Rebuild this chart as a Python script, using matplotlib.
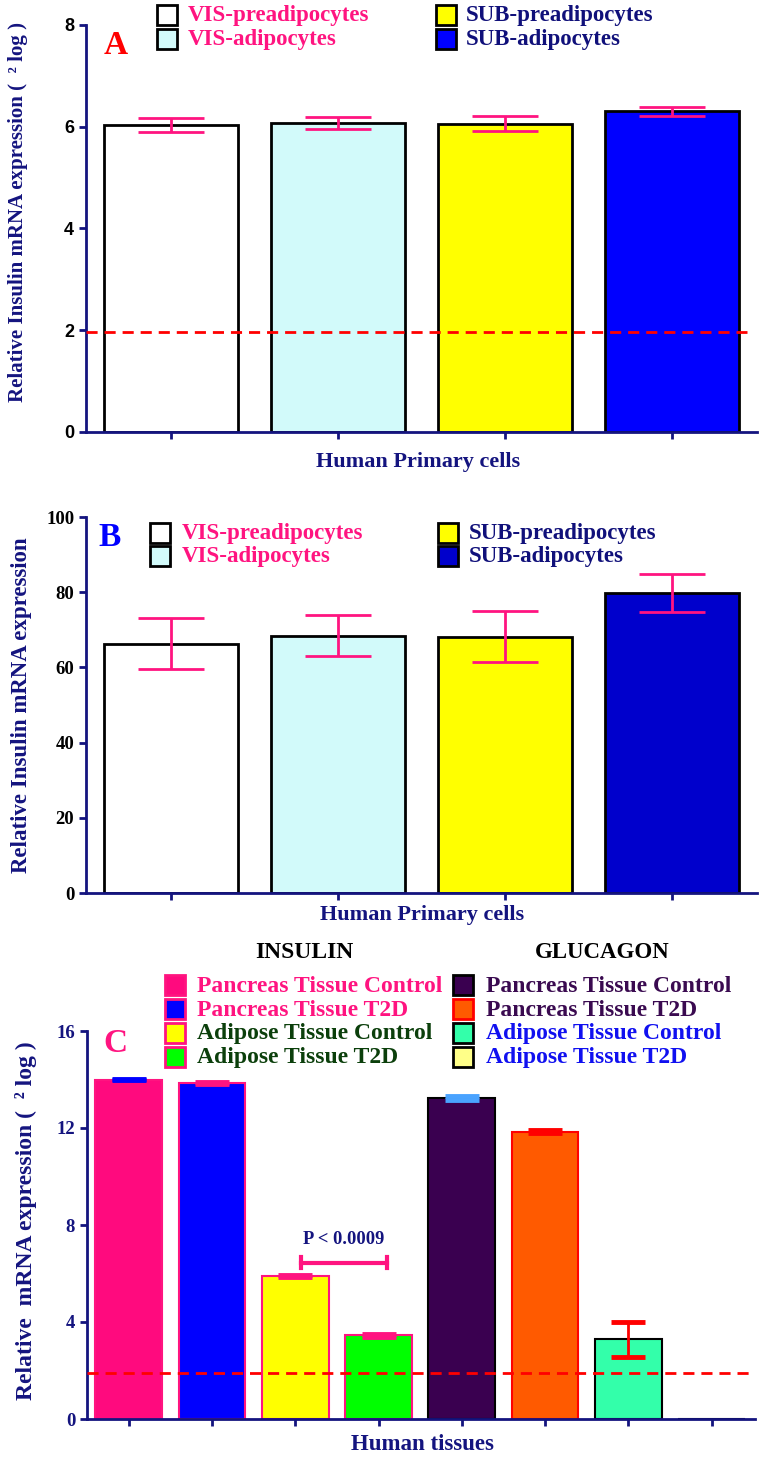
import matplotlib
matplotlib.use("Agg")
import matplotlib.pyplot as plt
from matplotlib.patches import Rectangle

# ── Data ────────────────────────────────────────────────────────────────
cell_labels = ["VIS-preadipocytes", "VIS-adipocytes", "SUB-preadipocytes", "SUB-adipocytes"]
cell_text_colors = ["#FF1480", "#FF1480", "#10107A", "#10107A"]

a_vals = [6.03, 6.08, 6.06, 6.30]
a_err = [0.14, 0.115, 0.145, 0.09]
a_colors = ["#FFFFFF", "#D2FAFA", "#FFFF00", "#0000FF"]

b_vals = [66.3, 68.4, 68.2, 79.8]
b_err = [6.8, 5.5, 6.8, 5.0]
b_colors = ["#FFFFFF", "#D2FAFA", "#FFFF00", "#0000CC"]

tissue_labels = ["Pancreas Tissue Control", "Pancreas Tissue T2D",
                 "Adipose Tissue Control", "Adipose Tissue T2D",
                 "Pancreas Tissue Control", "Pancreas Tissue T2D",
                 "Adipose Tissue Control", "Adipose Tissue T2D"]
tissue_text_colors = ["#FF1480", "#FF1480", "#0B3F0B", "#0B3F0B",
                      "#3A0A50", "#3A0A50", "#1010F0", "#1010F0"]
c_vals = [14.0, 13.85, 5.9, 3.46, 13.25, 11.85, 3.28, 0.0]
c_err = [0.04, 0.03, 0.03, 0.06, 0.08, 0.07, 0.72, 0.0]
c_colors = ["#FF0A7E", "#0000FF", "#FFFF00", "#00FF00",
            "#3A0050", "#FF5A00", "#33FFAA", "#FFFF88"]
c_edges = ["#FF1480", "#FF1480", "#FF1480", "#FF1480",
           "#000000", "#FF0000", "#000000", "#000000"]
c_err_colors = ["#0000FF", "#FF1480", "#FF1480", "#FF1480",
                "#4AA3FF", "#FF0000", "#FF0000", "#FF0000"]
c_groups = ["INSULIN", "GLUCAGON"]
p_text = "P < 0.0009"
p_pair = (2, 3)
p_level = 6.45

W, H = 768, 1458
NAVY = "#14147F"
SERIF = "Liberation Serif"
SANS = "Liberation Sans"
ERR_PINK = "#FF1480"


def fx(px):
    return px / W


def fy(py):
    return 1 - py / H


def axes_px(fig, left, top, right, bottom):
    return fig.add_axes([fx(left), fy(bottom), fx(right) - fx(left), (bottom - top) / H])


def style_axes(ax, n, xlim, tick_font, tick_color, tick_size=13):
    for s in ("top", "right"):
        ax.spines[s].set_visible(False)
    for s in ("left", "bottom"):
        ax.spines[s].set_color(NAVY)
        ax.spines[s].set_linewidth(2)
    ax.set_xlim(*xlim)
    ax.set_xticks(range(n))
    ax.set_xticklabels([])
    ax.tick_params(axis="both", color=NAVY, width=2, length=5)
    for lab in ax.get_yticklabels():
        lab.set_fontfamily(tick_font)
        lab.set_fontweight("bold")
        lab.set_fontsize(tick_size)
        lab.set_color(tick_color)


def draw_legend(fig, sq_x, txt_x, rows_y, colors, edges, labels, txt_colors, size=16.5):
    for y, c, e, lab, tc in zip(rows_y, colors, edges, labels, txt_colors):
        fig.patches.append(Rectangle((fx(sq_x), fy(y + 10)), 20 / W, 20 / H,
                                     transform=fig.transFigure, facecolor=c,
                                     edgecolor=e, linewidth=2))
        fig.text(fx(txt_x), fy(y + 1), lab, color=tc, fontsize=size, fontweight="bold",
                 family=SERIF, va="center", ha="left")


def bold_text(fig, px, py, s, color, size, **kw):
    fig.text(fx(px), fy(py), s, color=color, fontsize=size, fontweight="bold",
             family=SERIF, ha="center", va="center", **kw)


fig = plt.figure(figsize=(W / 100, H / 100), dpi=100)

# ── Panel A ────────────────────────────────────────────────────────────
axA = axes_px(fig, 86, 25, 757, 432)
x = range(len(a_vals))
axA.bar(x, a_vals, width=0.8, color=a_colors, edgecolor="black", linewidth=2, zorder=2)
axA.errorbar(x, a_vals, yerr=a_err, fmt="none", ecolor=ERR_PINK, elinewidth=2,
             capsize=24, capthick=2, zorder=3)
axA.axhline(1.96, xmin=0, xmax=0.985, color="#FF0000", ls=(0, (4, 2.5)), lw=2, zorder=4)
axA.set_ylim(0, 8)
axA.set_yticks([0, 2, 4, 6, 8])
style_axes(axA, 4, (-0.51, 3.51), SANS, "black", 13)
bold_text(fig, 116, 46, "A", "#FF0000", 24)
draw_legend(fig, 157, 188, [15, 39], a_colors[:2], ["black"] * 2, cell_labels[:2], cell_text_colors[:2])
draw_legend(fig, 436, 466, [15, 39], a_colors[2:], ["black"] * 2, cell_labels[2:], cell_text_colors[2:])
bold_text(fig, 18, 212, "Relative Insulin mRNA expression (  \u00b2 log )", NAVY, 15, rotation=90)
bold_text(fig, 418, 462, "Human Primary cells", NAVY, 16)

# ── Panel B ────────────────────────────────────────────────────────────
axB = axes_px(fig, 86, 517, 757, 893)
axB.bar(x, b_vals, width=0.8, color=b_colors, edgecolor="black", linewidth=2, zorder=2)
axB.errorbar(x, b_vals, yerr=b_err, fmt="none", ecolor=ERR_PINK, elinewidth=2,
             capsize=24, capthick=2, zorder=3)
axB.set_ylim(0, 100)
axB.set_yticks([0, 20, 40, 60, 80, 100])
style_axes(axB, 4, (-0.51, 3.51), SERIF, "black", 13.5)
bold_text(fig, 110, 538, "B", "#0000FF", 24)
draw_legend(fig, 150, 182, [533, 556], b_colors[:2], ["black"] * 2, cell_labels[:2], cell_text_colors[:2])
draw_legend(fig, 438, 469, [533, 556], b_colors[2:], ["black"] * 2, cell_labels[2:], cell_text_colors[2:])
bold_text(fig, 22, 705, "Relative Insulin mRNA expression", NAVY, 16.5, rotation=90)
bold_text(fig, 422, 915, "Human Primary cells", NAVY, 16)

# ── Panel C ────────────────────────────────────────────────────────────
axC = axes_px(fig, 87, 1031, 755, 1419)
xc = list(range(len(c_vals)))
axC.bar(xc, c_vals, width=0.8, color=c_colors, edgecolor=c_edges, linewidth=1.5, zorder=2)
for i, (v, e, ec) in enumerate(zip(c_vals, c_err, c_err_colors)):
    if v > 0:
        axC.errorbar(i, v, yerr=e, fmt="none", ecolor=ec, elinewidth=2,
                     capsize=12.5, capthick=3.5, zorder=3)
axC.axhline(1.9, color="#FF0000", ls=(0, (4, 2.5)), lw=2, zorder=4, clip_on=False)
axC.set_ylim(0, 16)
axC.set_yticks([0, 4, 8, 12, 16])
style_axes(axC, 8, (-0.5, 7.52), SERIF, NAVY, 13.5)

# significance bracket between the two adipose insulin bars
x0, x1 = p_pair[0] + 0.07, p_pair[1] + 0.1
axC.plot([x0, x1], [p_level, p_level], color=ERR_PINK, lw=3, zorder=5)
axC.plot([x0, x0], [p_level - 0.22, p_level + 0.22], color=ERR_PINK, lw=3, zorder=5)
axC.plot([x1, x1], [p_level - 0.22, p_level + 0.22], color=ERR_PINK, lw=3, zorder=5)
axC.text((x0 + x1) / 2, p_level + 0.95, p_text, color=NAVY, fontsize=13.3,
         fontweight="bold", family=SERIF, ha="center", va="center")

bold_text(fig, 115, 1043, "C", "#FF1480", 24)
bold_text(fig, 304, 952, c_groups[0], "black", 17)
bold_text(fig, 602, 952, c_groups[1], "black", 16.5)
rows = [985, 1009, 1033, 1057]
draw_legend(fig, 165, 197, rows, c_colors[:4], c_edges[:4], tissue_labels[:4], tissue_text_colors[:4], 17)
draw_legend(fig, 453, 486, rows, c_colors[4:], c_edges[4:], tissue_labels[4:], tissue_text_colors[4:], 17)
bold_text(fig, 26, 1221, "Relative  mRNA expression (  \u00b2 log )", NAVY, 17, rotation=90)
bold_text(fig, 422, 1445, "Human tissues", NAVY, 16.5)

fig.savefig("out.png", dpi=100)
